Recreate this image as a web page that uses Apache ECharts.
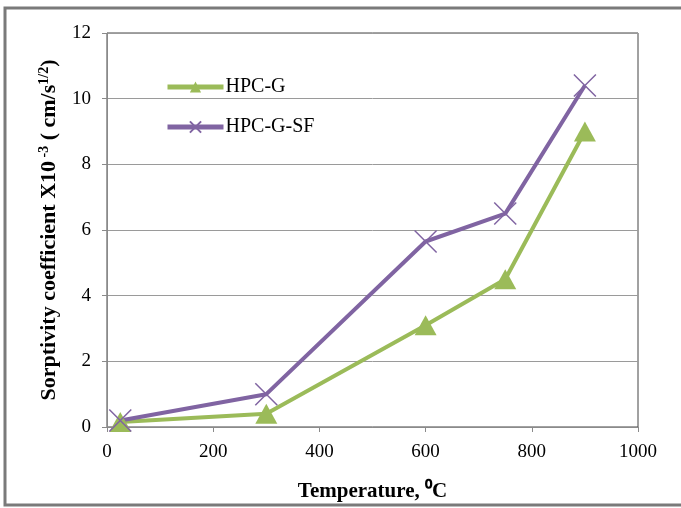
<!DOCTYPE html>
<html><head><meta charset="utf-8">
<script src="https://cdn.jsdelivr.net/npm/echarts@6/dist/echarts.min.js"></script>
<style>html,body{margin:0;padding:0;background:#fff}#c{width:681px;height:508px}</style>
</head><body><div id="c"></div>
<script>
const temperature = [25, 300, 600, 750, 900];
const hpcG = [0.15, 0.4, 3.1, 4.5, 9.0];
const hpcGSF = [0.2, 1.0, 5.65, 6.5, 10.4];
const seriesNames = ['HPC-G', 'HPC-G-SF'];
const xTicks = {min: 0, max: 1000, interval: 200};
const yTicks = {min: 0, max: 12, interval: 2};

const font = '"Liberation Serif", "Times New Roman", serif';
const chart = echarts.init(document.getElementById('c'));
const xPath = 'path://M0,0L10,10M10,0L0,10';
chart.setOption({
  animation: false,
  backgroundColor: '#fff',
  graphic: [{type: 'rect', shape: {x: 5, y: 8, width: 690, height: 497}, style: {fill: 'none', stroke: '#7a7a7a', lineWidth: 3}, z: 100}],
  grid: {left: 107, right: 43, top: 33, bottom: 81, show: true, borderColor: '#444', borderWidth: 1},
  legend: {
    left: 160, top: 72, orient: 'vertical', itemGap: 20, itemWidth: 56, itemHeight: 14,
    textStyle: {fontFamily: font, fontSize: 20, color: '#000', padding: [0, 0, 0, -3]},
    lineStyle: {width: 5},
    data: seriesNames
  },
  xAxis: {
    type: 'value', min: xTicks.min, max: xTicks.max, interval: xTicks.interval,
    name: 'Temperature, \u2070C', nameLocation: 'middle', nameGap: 54,
    nameTextStyle: {fontFamily: font, fontSize: 21, fontWeight: 'bold', color: '#000'},
    axisLine: {show: true, lineStyle: {color: '#8a8a8a'}},
    axisTick: {show: true, length: 5, lineStyle: {color: '#8a8a8a'}},
    axisLabel: {fontFamily: font, fontSize: 19, color: '#000', margin: 16, formatter: v => String(v)},
    splitLine: {show: false}
  },
  yAxis: {
    type: 'value', min: yTicks.min, max: yTicks.max, interval: yTicks.interval,
    name: '{t|Sorptivity coefficient X10}{s| -3}{t| ( cm/s}{s|1/2}{t|)}',
    nameLocation: 'middle', nameGap: 47, nameRotate: 90,
    nameTextStyle: {
      fontFamily: font, fontSize: 22, fontWeight: 'bold', color: '#000',
      rich: {
        t: {fontFamily: font, fontSize: 22, fontWeight: 'bold', color: '#000', lineHeight: 23, verticalAlign: 'bottom'},
        s: {fontFamily: font, fontSize: 14, fontWeight: 'bold', color: '#000', lineHeight: 23, verticalAlign: 'top'}
      }
    },
    axisLine: {show: true, lineStyle: {color: '#8a8a8a'}},
    axisTick: {show: true, length: 5, lineStyle: {color: '#8a8a8a'}},
    axisLabel: {fontFamily: font, fontSize: 19, color: '#000', margin: 16},
    splitLine: {show: true, lineStyle: {color: '#9a9a9a', width: 1}}
  },
  series: [
    {
      name: seriesNames[0], type: 'line',
      data: temperature.map((t, i) => [t, hpcG[i]]),
      symbol: 'triangle', symbolSize: [22, 20],
      lineStyle: {color: '#9BBB59', width: 4},
      itemStyle: {color: '#9BBB59'}
    },
    {
      name: seriesNames[1], type: 'line',
      data: temperature.map((t, i) => [t, hpcGSF[i]]),
      symbol: xPath, symbolSize: 22,
      lineStyle: {color: '#8064A2', width: 4},
      itemStyle: {color: '#8064A2', borderColor: '#8064A2', borderWidth: 1.5}
    }
  ]
});
</script></body></html>
